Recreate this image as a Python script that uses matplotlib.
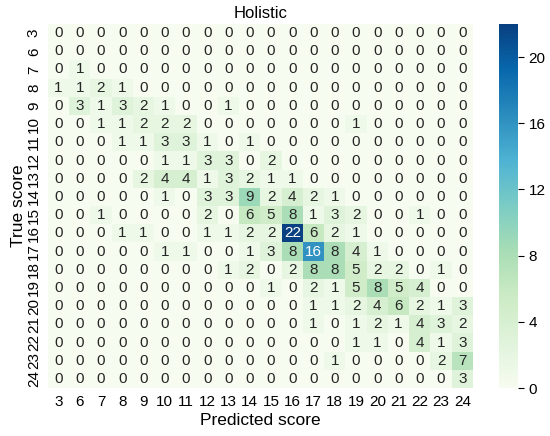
import numpy as np
import matplotlib
matplotlib.use("Agg")
import matplotlib.pyplot as plt
import seaborn as sns

scores = [3, 6, 7, 8, 9, 10, 11, 12, 13, 14, 15, 16, 17, 18, 19, 20, 21, 22, 23, 24]

# rows = true score, columns = predicted score
counts = [
    [0, 0, 0, 0, 0, 0, 0, 0, 0, 0, 0, 0, 0, 0, 0, 0, 0, 0, 0, 0],
    [0, 0, 0, 0, 0, 0, 0, 0, 0, 0, 0, 0, 0, 0, 0, 0, 0, 0, 0, 0],
    [0, 1, 0, 0, 0, 0, 0, 0, 0, 0, 0, 0, 0, 0, 0, 0, 0, 0, 0, 0],
    [1, 1, 2, 1, 0, 0, 0, 0, 0, 0, 0, 0, 0, 0, 0, 0, 0, 0, 0, 0],
    [0, 3, 1, 3, 2, 1, 0, 0, 1, 0, 0, 0, 0, 0, 0, 0, 0, 0, 0, 0],
    [0, 0, 1, 1, 2, 2, 2, 0, 0, 0, 0, 0, 0, 0, 1, 0, 0, 0, 0, 0],
    [0, 0, 0, 1, 1, 3, 3, 1, 0, 1, 0, 0, 0, 0, 0, 0, 0, 0, 0, 0],
    [0, 0, 0, 0, 0, 1, 1, 3, 3, 0, 2, 0, 0, 0, 0, 0, 0, 0, 0, 0],
    [0, 0, 0, 0, 2, 4, 4, 1, 3, 2, 1, 1, 0, 0, 0, 0, 0, 0, 0, 0],
    [0, 0, 0, 0, 0, 1, 0, 3, 3, 9, 2, 4, 2, 1, 0, 0, 0, 0, 0, 0],
    [0, 0, 1, 0, 0, 0, 0, 2, 0, 6, 5, 8, 1, 3, 2, 0, 0, 1, 0, 0],
    [0, 0, 0, 1, 1, 0, 0, 1, 1, 2, 2, 22, 6, 2, 1, 0, 0, 0, 0, 0],
    [0, 0, 0, 0, 0, 1, 1, 0, 0, 1, 3, 8, 16, 8, 4, 1, 0, 0, 0, 0],
    [0, 0, 0, 0, 0, 0, 0, 0, 1, 2, 0, 2, 8, 8, 5, 2, 2, 0, 1, 0],
    [0, 0, 0, 0, 0, 0, 0, 0, 0, 0, 1, 0, 2, 1, 5, 8, 5, 4, 0, 0],
    [0, 0, 0, 0, 0, 0, 0, 0, 0, 0, 0, 0, 1, 1, 2, 4, 6, 2, 1, 3],
    [0, 0, 0, 0, 0, 0, 0, 0, 0, 0, 0, 0, 1, 0, 1, 2, 1, 4, 3, 2],
    [0, 0, 0, 0, 0, 0, 0, 0, 0, 0, 0, 0, 0, 0, 1, 1, 0, 4, 1, 3],
    [0, 0, 0, 0, 0, 0, 0, 0, 0, 0, 0, 0, 0, 1, 0, 0, 0, 0, 2, 7],
    [0, 0, 0, 0, 0, 0, 0, 0, 0, 0, 0, 0, 0, 0, 0, 0, 0, 0, 0, 3],
]

plt.rcParams['font.family'] = ['Liberation Sans', 'DejaVu Sans']

fig = plt.figure(figsize=(5.5, 4.36), dpi=100)
ax = fig.add_axes([0.087, 0.110, 0.773, 0.835])
cax = fig.add_axes([0.907, 0.110, 0.035, 0.835])

sns.heatmap(np.array(counts), annot=True, fmt='d', cmap='GnBu', vmin=0, vmax=22,
            xticklabels=scores, yticklabels=scores, ax=ax, cbar_ax=cax,
            annot_kws={'size': 11})

ax.tick_params(length=0, labelsize=11, pad=5)
ax.set_yticklabels(scores, rotation=90, va='center')
ax.set_xticklabels(scores, rotation=0)
ax.set_xlabel('Predicted score', fontsize=12.5, labelpad=3)
ax.set_ylabel('True score', fontsize=12.5, labelpad=1)
ax.set_title('Holistic', fontsize=12, pad=4)

cax.set_yticks([0, 4, 8, 12, 16, 20])
cax.tick_params(labelsize=11, length=4)
for s in cax.spines.values():
    s.set_visible(False)

fig.savefig('out.png', dpi=100)
